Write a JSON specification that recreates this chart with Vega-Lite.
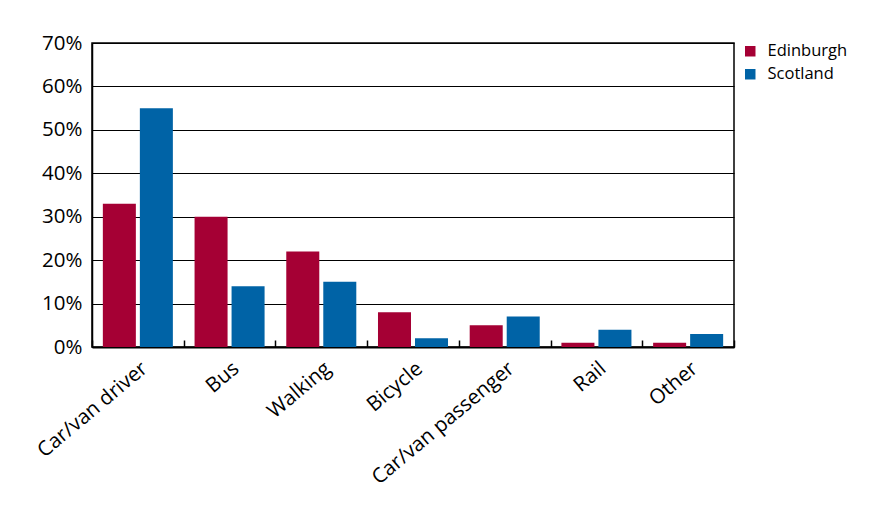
{
  "$schema": "https://vega.github.io/schema/vega-lite/v6.json",
  "autosize": {"type": "none"},
  "padding": {"left": 92, "top": 43, "right": 159, "bottom": 182},
  "width": 642,
  "height": 304,
  "background": "white",
  "data": {"values": [
    {"mode": "Car/van driver", "area": "Edinburgh", "share": 0.33},
    {"mode": "Car/van driver", "area": "Scotland", "share": 0.55},
    {"mode": "Bus", "area": "Edinburgh", "share": 0.30},
    {"mode": "Bus", "area": "Scotland", "share": 0.14},
    {"mode": "Walking", "area": "Edinburgh", "share": 0.22},
    {"mode": "Walking", "area": "Scotland", "share": 0.15},
    {"mode": "Bicycle", "area": "Edinburgh", "share": 0.08},
    {"mode": "Bicycle", "area": "Scotland", "share": 0.02},
    {"mode": "Car/van passenger", "area": "Edinburgh", "share": 0.05},
    {"mode": "Car/van passenger", "area": "Scotland", "share": 0.07},
    {"mode": "Rail", "area": "Edinburgh", "share": 0.01},
    {"mode": "Rail", "area": "Scotland", "share": 0.04},
    {"mode": "Other", "area": "Edinburgh", "share": 0.01},
    {"mode": "Other", "area": "Scotland", "share": 0.03}
  ]},
  "mark": {"type": "bar"},
  "encoding": {
    "x": {
      "field": "mode", "type": "nominal", "sort": null,
      "scale": {"paddingInner": 0, "paddingOuter": 0},
      "axis": {
        "title": null, "labelAngle": -40, "labelAlign": "right", "labelBaseline": "top",
        "labelFont": "Open Sans", "labelFontSize": 20.5, "labelColor": "black", "labelPadding": 18,
        "labelLimit": 0, "labelOverlap": false,
        "tickBand": "extent", "tickSize": -7, "tickColor": "black", "tickWidth": 1.5,
        "domainColor": "black", "domainWidth": 2, "grid": false
      }
    },
    "xOffset": {"field": "area", "type": "nominal", "scale": {"paddingInner": 0.108, "paddingOuter": 0.293}},
    "y": {
      "field": "share", "type": "quantitative",
      "scale": {"domain": [0, 0.7], "nice": false},
      "axis": {
        "title": null, "format": ".0%", "values": [0, 0.1, 0.2, 0.3, 0.4, 0.5, 0.6, 0.7],
        "labelFont": "Open Sans", "labelFontSize": 20.5, "labelColor": "black", "labelPadding": 10,
        "ticks": false, "grid": true, "gridColor": "black", "gridWidth": 1.2, "gridOpacity": 1,
        "domainColor": "black", "domainWidth": 1.5
      }
    },
    "color": {
      "field": "area", "type": "nominal",
      "scale": {"domain": ["Edinburgh", "Scotland"], "range": ["#a50034", "#0063a6"]},
      "legend": {
        "title": null, "orient": "right", "offset": 8, "symbolType": "square", "symbolSize": 110,
        "symbolStrokeWidth": 0, "labelFont": "Open Sans", "labelFontSize": 16.5, "labelColor": "black",
        "rowPadding": 6, "labelOffset": 9
      }
    }
  },
  "config": {
    "view": {"stroke": "black", "strokeWidth": 1.5},
    "legend": {"symbolOpacity": 1}
  }
}
